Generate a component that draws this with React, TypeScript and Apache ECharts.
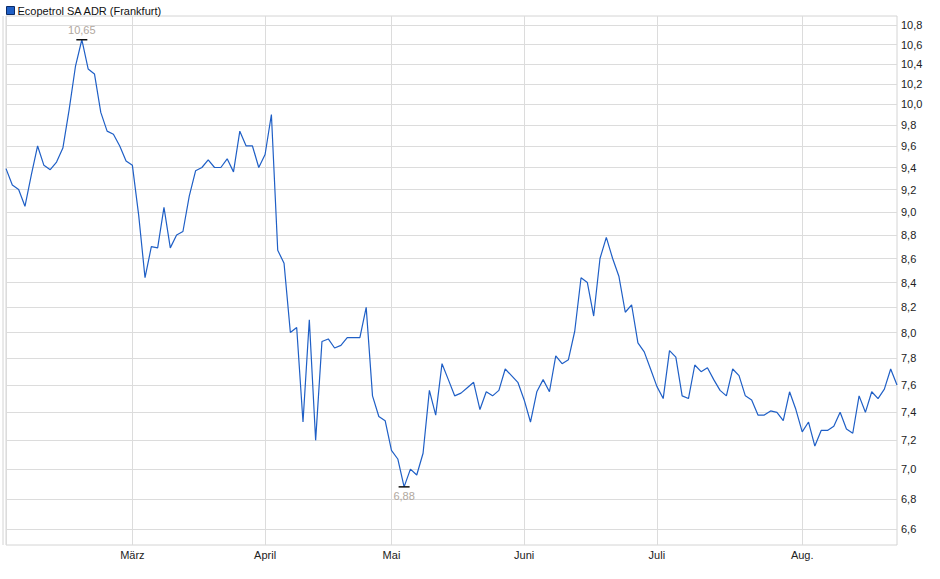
import { useEffect, useRef } from 'react';
import * as echarts from 'echarts';

// Kurse je Handelstag, nach Monat gruppiert (Feb. bis Aug.)
const febValues = [9.39, 9.24, 9.2, 9.05, 9.33, 9.6, 9.42, 9.38, 9.45, 9.58, 9.95, 10.38, 10.65, 10.35, 10.3, 9.92, 9.74, 9.71, 9.6, 9.46];
const marValues = [9.42, 8.97, 8.44, 8.7, 8.69, 9.04, 8.69, 8.8, 8.83, 9.14, 9.37, 9.4, 9.47, 9.4, 9.4, 9.48, 9.36, 9.74, 9.6, 9.6, 9.4];
const aprValues = [9.52, 9.9, 8.67, 8.56, 8.0, 8.04, 7.33, 8.1, 7.2, 7.93, 7.95, 7.88, 7.9, 7.96, 7.96, 7.96, 8.2, 7.52, 7.37, 7.34];
const mayValues = [7.13, 7.07, 6.88, 7.0, 6.96, 7.11, 7.56, 7.38, 7.76, 7.64, 7.52, 7.54, 7.58, 7.62, 7.42, 7.55, 7.52, 7.56, 7.72, 7.67, 7.62];
const junValues = [7.49, 7.33, 7.55, 7.64, 7.55, 7.82, 7.76, 7.79, 8.01, 8.44, 8.4, 8.13, 8.6, 8.78, 8.6, 8.45, 8.16, 8.22, 7.92, 7.85, 7.72];
const julValues = [7.59, 7.5, 7.86, 7.81, 7.52, 7.5, 7.75, 7.7, 7.73, 7.64, 7.56, 7.52, 7.72, 7.67, 7.52, 7.49, 7.38, 7.38, 7.41, 7.4, 7.34, 7.55, 7.42];
const augValues = [7.26, 7.33, 7.16, 7.27, 7.27, 7.3, 7.4, 7.28, 7.25, 7.52, 7.4, 7.55, 7.5, 7.57, 7.72, 7.6];

const monthLabels = ['', 'März', 'April', 'Mai', 'Juni', 'Juli', 'Aug.'];
const yTicks = [6.6, 6.8, 7.0, 7.2, 7.4, 7.6, 7.8, 8.0, 8.2, 8.4, 8.6, 8.8, 9.0, 9.2, 9.4, 9.6, 9.8, 10.0, 10.2, 10.4, 10.6, 10.8];

const months = [febValues, marValues, aprValues, mayValues, junValues, julValues, augValues];

const categories: string[] = [];
const prices: number[] = [];
const monthStart = new Map<number, string>();
months.forEach((vals, m) => {
  monthStart.set(categories.length, monthLabels[m]);
  vals.forEach((v, i) => {
    categories.push(`${m}-${i}`);
    prices.push(v);
  });
});

const comma = (v: number, d: number) => v.toFixed(d).replace('.', ',');

export default function App() {
  const chartRef = useRef<HTMLDivElement>(null);

  useEffect(() => {
    if (!chartRef.current) return;
    document.body.style.margin = '0';
    const chart = echarts.init(chartRef.current, null, { renderer: 'svg' });

    const option: echarts.EChartsOption = {
      animation: false,
      textStyle: { fontFamily: 'Liberation Sans, Arial, sans-serif' },
      legend: {
        left: 1,
        top: 0,
        icon: 'rect',
        itemWidth: 8,
        itemHeight: 8,
        itemGap: 4,
        textStyle: { fontSize: 11, color: '#111', padding: [0, 0, 0, -2] },
        data: [{ name: 'Ecopetrol SA ADR (Frankfurt)', itemStyle: { color: '#1f5fc6', borderColor: '#0b2a66', borderWidth: 1 } }],
      },
      grid: {
        left: 6,
        right: 43,
        top: 16,
        bottom: 34,
        show: true,
        borderColor: '#d4d4d4',
        borderWidth: 1,
      },
      xAxis: {
        type: 'category',
        data: categories,
        boundaryGap: false,
        axisLine: { show: false },
        axisTick: { show: false },
        axisLabel: {
          interval: (index: number) => monthStart.has(index),
          formatter: (_v: string, index: number) => monthStart.get(index) ?? '',
          fontSize: 11,
          color: '#222',
          margin: 4,
        },
        splitLine: {
          show: true,
          interval: (index: number) => monthStart.has(index),
          lineStyle: { color: '#dcdcdc', width: 1 },
        },
      },
      yAxis: {
        type: 'log',
        logBase: 10,
        position: 'right',
        min: 6.5,
        max: 10.9,
        axisLine: { show: false },
        axisTick: { show: false, customValues: yTicks },
        axisLabel: {
          customValues: yTicks,
          formatter: (v: number) => comma(v, 1),
          fontSize: 11,
          color: '#222',
          margin: 4,
        },
        splitLine: { show: true, lineStyle: { color: '#dcdcdc', width: 1 } },
      },
      graphic: [
        {
          type: 'line',
          shape: { x1: 3, y1: 16, x2: 3, y2: 545 },
          style: { stroke: '#d4d4d4', lineWidth: 1 },
          silent: true,
        },
      ],
      series: [
        {
          name: 'Ecopetrol SA ADR (Frankfurt)',
          type: 'line',
          data: prices,
          showSymbol: false,
          symbol: 'none',
          lineStyle: { color: '#1f5fc6', width: 1.2 },
          itemStyle: { color: '#1f5fc6' },
          markPoint: {
            symbol: 'rect',
            symbolSize: [11, 1.5],
            itemStyle: { color: '#111' },
            label: {
              formatter: (p: any) => comma(p.value, 2),
              color: '#b0a79e',
              fontSize: 11,
              distance: 3,
            },
            data: [
              { type: 'max', label: { position: 'top' } },
              { type: 'min', label: { position: 'bottom' } },
            ],
          },
        },
      ],
    };

    chart.setOption(option);
    return () => chart.dispose();
  }, []);

  return <div ref={chartRef} style={{ width: 940, height: 579 }} />;
}
